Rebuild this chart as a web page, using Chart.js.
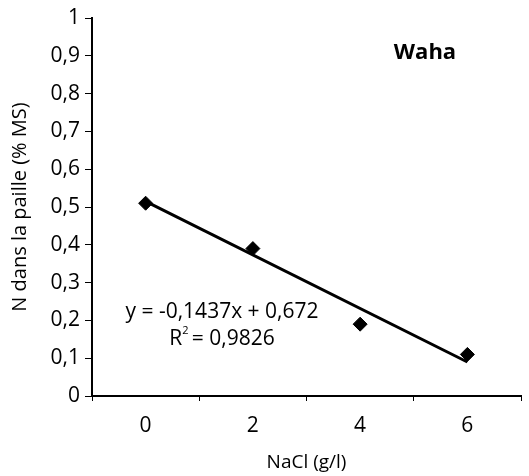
<!DOCTYPE html>
<html lang="fr">
<head>
    <meta charset="UTF-8">
    <title>N dans la paille - Waha</title>
    <script src="https://cdn.jsdelivr.net/npm/chart.js"></script>
    <style>
        body { margin: 0; background: #fff; }
        .chart-box { width: 529px; height: 476px; }
    </style>
</head>
<body>
    <div class="chart-box">
        <canvas id="wahaChart" width="529" height="476"></canvas>
    </div>

    <script>
        // Data
        const nacl = ['0', '2', '4', '6'];               // NaCl (g/l)
        const nStraw = [0.51, 0.39, 0.19, 0.11];         // N dans la paille (% MS)
        const trend = [0.515, null, null, 0.09];         // linear trendline ends
        const yTicks = { min: 0, max: 1, step: 0.1 };
        const eqLines = ['y = -0,1437x + 0,672', '= 0,9826'];
        const panelName = 'Waha';

        const fontFam = '"Open Sans", "DejaVu Sans", sans-serif';

        // equation + panel label
        const textPlugin = {
            id: 'texts',
            afterDraw(chart) {
                const ctx = chart.ctx;
                ctx.save();
                ctx.fillStyle = '#000';
                ctx.textBaseline = 'middle';
                ctx.textAlign = 'center';
                ctx.font = 'bold 22px ' + fontFam;
                ctx.fillText(panelName, 425, 53);

                ctx.font = '21px ' + fontFam;
                ctx.fillText(eqLines[0], 222, 312);
                // R² line
                ctx.textAlign = 'left';
                const rW = ctx.measureText('R').width;
                const restW = ctx.measureText(' ' + eqLines[1]).width;
                const x0 = 222 - (rW + 4 + restW) / 2;
                ctx.fillText('R', x0, 339);
                ctx.font = '11px ' + fontFam;
                ctx.fillText('2', x0 + rW, 331);
                ctx.font = '21px ' + fontFam;
                ctx.fillText(' ' + eqLines[1], x0 + rW + 4, 339);
                ctx.restore();
            }
        };

        const ctx = document.getElementById('wahaChart').getContext('2d');
        new Chart(ctx, {
            type: 'line',
            data: {
                labels: nacl,
                datasets: [{
                    label: 'Trend',
                    data: trend,
                    borderColor: '#000',
                    borderWidth: 3,
                    pointRadius: 0,
                    spanGaps: true,
                    fill: false
                }, {
                    label: 'N paille',
                    data: nStraw,
                    showLine: false,
                    pointStyle: 'rectRot',
                    pointRadius: 7,
                    backgroundColor: '#000',
                    borderColor: '#000'
                }]
            },
            options: {
                responsive: false,
                animation: false,
                layout: { padding: { top: 18, right: 5, left: 0, bottom: 0 } },
                plugins: { legend: { display: false }, tooltip: { enabled: false } },
                scales: {
                    x: {
                        offset: true,
                        grid: { offset: true, drawOnChartArea: false, tickLength: 5, color: '#000' },
                        border: { color: '#000', width: 2 },
                        ticks: { color: '#000', padding: 12, font: { family: fontFam, size: 21 } },
                        title: {
                            display: true, text: 'NaCl (g/l)', color: '#000',
                            font: { family: fontFam, size: 19 }, padding: { top: 0, bottom: 2 }
                        },
                        afterFit(scale) { scale.height = 80; }
                    },
                    y: {
                        min: yTicks.min,
                        max: yTicks.max,
                        grid: { drawOnChartArea: false, tickLength: 7, color: '#000' },
                        border: { color: '#000', width: 2 },
                        ticks: {
                            stepSize: yTicks.step,
                            color: '#000',
                            padding: 5,
                            font: { family: fontFam, size: 21 },
                            callback: v => Number(v.toFixed(1)).toString().replace('.', ',')
                        },
                        title: {
                            display: true, text: 'N dans la paille (% MS)', color: '#000',
                            font: { family: fontFam, size: 20 }, padding: { top: 8, bottom: 0 }
                        },
                        afterFit(scale) { scale.width = 92; }
                    }
                }
            },
            plugins: [textPlugin]
        });
    </script>
</body>
</html>
